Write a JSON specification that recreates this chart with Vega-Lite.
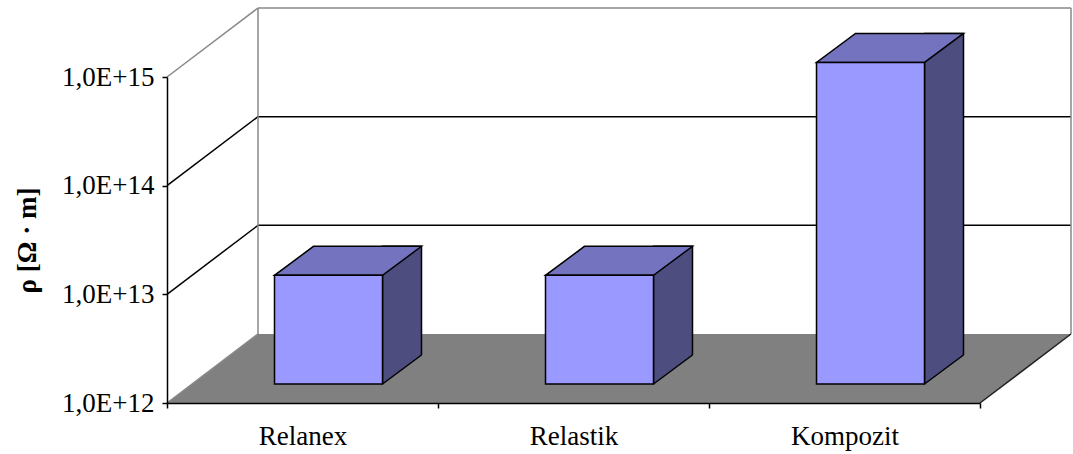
{
  "$schema": "https://vega.github.io/schema/vega-lite/v6.json",
  "width": 813,
  "height": 326,
  "autosize": {"type": "none"},
  "padding": {"left": 167, "top": 77, "right": 93, "bottom": 51},
  "background": "white",
  "config": {"view": {"stroke": null}, "font": "Liberation Serif"},
  "datasets": {
    "bars": [
      {"material": "Relanex", "rho": 1.0e13},
      {"material": "Relastik", "rho": 1.0e13},
      {"material": "Kompozit", "rho": 9.1e14}
    ],
    "gridBlack": [{"rho": 1e13}, {"rho": 1e14}],
    "edgeGray": [{"rho": 1e12}, {"rho": 1e15}],
    "one": [{}]
  },
  "layer": [
    {
      "data": {"name": "bars"},
      "mark": {"type": "point", "shape": "M -135.5 0 L 677.5 0 L 768.5 -69 L -44.5 -69 Z", "size": 4, "filled": true, "fill": "#808080", "strokeWidth": 0, "opacity": 1},
      "transform": [{"filter": "datum.material === 'Relanex'"}],
      "encoding": {
        "x": {
          "field": "material", "type": "nominal",
          "scale": {"type": "band", "domain": ["Relanex", "Relastik", "Kompozit"], "paddingInner": 0, "paddingOuter": 0},
          "axis": {"title": null, "zindex": 1, "labelAngle": 0, "labelFont": "Liberation Serif", "labelFontSize": 27, "labelColor": "black", "domainColor": "black", "domainWidth": 1.5, "tickColor": "black", "tickWidth": 1.5, "tickSize": 5, "tickBand": "extent", "labelPadding": 15}
        },
        "y": {
          "datum": 1e12, "type": "quantitative",
          "scale": {"type": "log", "domain": [1e12, 1e15], "nice": false},
          "axis": {"values": [1e12, 1e13, 1e14, 1e15], "zindex": 1, "labelExpr": "upper(replace(format(datum.value, '.1e'), '.', ','))", "grid": false, "title": "ρ [Ω · m]", "titleFont": "Liberation Serif", "titleFontSize": 27, "titleFontWeight": "bold", "titleColor": "black", "titlePadding": 20, "labelFont": "Liberation Serif", "labelFontSize": 27, "labelColor": "black", "labelPadding": 8, "domainColor": "black", "domainWidth": 1.5, "tickColor": "black", "tickWidth": 1.5, "tickSize": 5}
        }
      }
    },
    {
      "data": {"name": "gridBlack"},
      "mark": {"type": "rule", "color": "black", "strokeWidth": 1.5, "xOffset": -135.5, "x2Offset": -44.5, "y2Offset": -69},
      "encoding": {
        "x": {"datum": "Relanex", "type": "nominal"},
        "x2": {"datum": "Relanex"},
        "y": {"field": "rho", "type": "quantitative"},
        "y2": {"field": "rho"}
      }
    },
    {
      "data": {"name": "gridBlack"},
      "mark": {"type": "rule", "color": "black", "strokeWidth": 1.5, "xOffset": -44.5, "x2Offset": 226.5, "yOffset": -69},
      "encoding": {
        "x": {"datum": "Relanex", "type": "nominal"},
        "x2": {"datum": "Kompozit"},
        "y": {"field": "rho", "type": "quantitative"}
      }
    },
    {
      "data": {"name": "edgeGray"},
      "mark": {"type": "rule", "color": "#888888", "strokeWidth": 1.5, "xOffset": -135.5, "x2Offset": -44.5, "y2Offset": -69},
      "encoding": {
        "x": {"datum": "Relanex", "type": "nominal"},
        "x2": {"datum": "Relanex"},
        "y": {"field": "rho", "type": "quantitative"},
        "y2": {"field": "rho"}
      }
    },
    {
      "data": {"name": "one"},
      "mark": {"type": "rule", "color": "#888888", "strokeWidth": 1.5, "xOffset": -44.5, "x2Offset": 226.5, "yOffset": -69},
      "encoding": {
        "x": {"datum": "Relanex", "type": "nominal"},
        "x2": {"datum": "Kompozit"},
        "y": {"datum": 1e15, "type": "quantitative"}
      }
    },
    {
      "data": {"name": "one"},
      "mark": {"type": "rule", "color": "#888888", "strokeWidth": 1.5, "xOffset": -44.5, "yOffset": -69, "y2Offset": -69},
      "encoding": {
        "x": {"datum": "Relanex", "type": "nominal"},
        "y": {"datum": 1e15, "type": "quantitative"},
        "y2": {"datum": 1e12}
      }
    },
    {
      "data": {"name": "one"},
      "mark": {"type": "rule", "color": "#888888", "strokeWidth": 1.5, "xOffset": 226.5, "yOffset": -69, "y2Offset": -69},
      "encoding": {
        "x": {"datum": "Kompozit", "type": "nominal"},
        "y": {"datum": 1e15, "type": "quantitative"},
        "y2": {"datum": 1e12}
      }
    },
    {
      "data": {"name": "one"},
      "mark": {"type": "rule", "color": "#222222", "strokeWidth": 1.5, "xOffset": 135.5, "x2Offset": 226.5, "y2Offset": -69},
      "encoding": {
        "x": {"datum": "Kompozit", "type": "nominal"},
        "x2": {"datum": "Kompozit"},
        "y": {"datum": 1e12, "type": "quantitative"},
        "y2": {"datum": 1e12}
      }
    },
    {
      "data": {"name": "bars"},
      "mark": {"type": "bar", "width": 39, "xOffset": 99.5, "yOffset": -48, "y2Offset": -19, "fill": "#4D4D80", "stroke": "black", "strokeWidth": 1.5},
      "encoding": {
        "x": {"field": "material", "type": "nominal"},
        "y": {"field": "rho", "type": "quantitative"},
        "y2": {"datum": 1e12}
      }
    },
    {
      "data": {"name": "bars"},
      "mark": {"type": "point", "shape": "M 80 -19 L 119 -48 L 121.5 -48 L 121.5 -16.5 L 79.5 -16.5 Z", "size": 4, "filled": true, "fill": "#808080", "strokeWidth": 0, "opacity": 1},
      "encoding": {
        "x": {"field": "material", "type": "nominal"},
        "y": {"datum": 1e12, "type": "quantitative"}
      }
    },
    {
      "data": {"name": "bars"},
      "mark": {"type": "point", "shape": "M 80 -19 L 119 -48", "size": 4, "filled": false, "fill": null, "stroke": "black", "strokeWidth": 1.5, "opacity": 1},
      "encoding": {
        "x": {"field": "material", "type": "nominal"},
        "y": {"datum": 1e12, "type": "quantitative"}
      }
    },
    {
      "data": {"name": "bars"},
      "mark": {"type": "point", "shape": "M -28 -19 L 80 -19 L 119 -48 L 11 -48 Z", "size": 4, "filled": true, "fill": "#7373BF", "stroke": "black", "strokeWidth": 1.5, "opacity": 1},
      "encoding": {
        "x": {"field": "material", "type": "nominal"},
        "y": {"field": "rho", "type": "quantitative"}
      }
    },
    {
      "data": {"name": "bars"},
      "mark": {"type": "bar", "width": 108, "xOffset": 26, "yOffset": -19, "y2Offset": -19, "fill": "#9999FF", "stroke": "black", "strokeWidth": 1.5},
      "encoding": {
        "x": {"field": "material", "type": "nominal"},
        "y": {"field": "rho", "type": "quantitative"},
        "y2": {"datum": 1e12}
      }
    }
  ]
}
